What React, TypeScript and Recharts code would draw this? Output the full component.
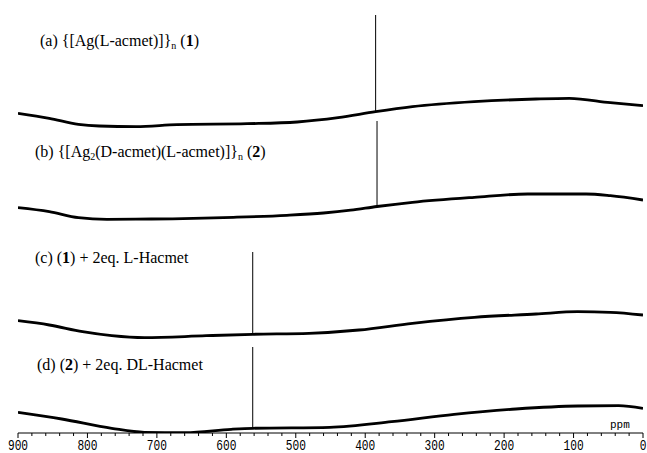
import { LineChart, Line, XAxis, YAxis } from 'recharts';

// chemical shift (ppm) sample points and baseline intensities, one set per spectrum
const PPM_A = [900, 855, 813, 783, 730, 671, 570, 498, 439, 385, 332, 243, 154, 106, 47, 0];
const VAL_A = [13.7, 8.7, 2.7, 1, 0.3, 2.3, 3.3, 5, 9.3, 15.3, 20.3, 25.3, 28, 28.7, 24.3, 21.3];
const PPM_B = [900, 855, 813, 772, 708, 590, 513, 460, 421, 383, 332, 243, 166, 82, 47, 0];
const VAL_B = [12.3, 8.3, 2.3, 0.7, 1, 2.7, 4.7, 7, 9.8, 13.5, 17.7, 22.7, 26, 26, 24.3, 20];
const PPM_C = [900, 855, 807, 765, 718, 629, 562, 481, 409, 332, 243, 154, 94, 47, 0];
const VAL_C = [17.3, 13, 6.3, 2.3, 0.3, 2.3, 3.7, 4.7, 8, 14.7, 20.7, 24, 26.3, 25.7, 23];
const PPM_D = [900, 837, 765, 718, 659, 593, 562, 451, 362, 272, 183, 94, 35, 0];
const VAL_D = [20.7, 14, 4.7, 0.7, 0.3, 3.7, 4.7, 5.7, 11.3, 18.7, 24, 27, 27.3, 24.7];

// stacking offsets, peak positions and peak heights above the baseline
const OFFSETS = [306, 213, 95, 0];
const PEAK_PPM = [385, 383, 562, 562];
const PEAK_HEIGHT = [96.7, 85.5, 82.3, 81.3];

const LABELS = ['a', 'b', 'c', 'd'];

const TICKS = [
  0, 20, 40, 60, 80, 100, 120, 140, 160, 180, 200, 220, 240, 260, 280, 300, 320, 340, 360, 380,
  400, 420, 440, 460, 480, 500, 520, 540, 560, 580, 600, 620, 640, 660, 680, 700, 720, 740, 760,
  780, 800, 820, 840, 860, 880, 900,
];

const SPECTRA = [
  { ppm: PPM_A, val: VAL_A },
  { ppm: PPM_B, val: VAL_B },
  { ppm: PPM_C, val: VAL_C },
  { ppm: PPM_D, val: VAL_D },
];

const baselines = SPECTRA.map((s, i) =>
  s.ppm.map((p, j) => ({ ppm: p, v: s.val[j] + OFFSETS[i] }))
);

const peaks = SPECTRA.map((s, i) => {
  const j = s.ppm.indexOf(PEAK_PPM[i]);
  const base = s.val[j] + OFFSETS[i];
  return [
    { ppm: PEAK_PPM[i], v: base },
    { ppm: PEAK_PPM[i], v: base + PEAK_HEIGHT[i] },
  ];
});

const AxisTick = (props: any) => {
  const { x, y, payload } = props;
  const major = payload.value % 100 === 0;
  return (
    <g>
      <line x1={x} x2={x} y1={y} y2={y + (major ? 5 : 3)} stroke="#000" strokeWidth={1} />
      {major && (
        <text
          transform={`translate(${x},${y + 17}) scale(0.8,1)`}
          textAnchor="middle"
          fontFamily="Liberation Mono"
          fontSize={14}
          fill="#000"
        >
          {payload.value}
        </text>
      )}
    </g>
  );
};

const serif = { fontFamily: '"Liberation Serif", "Times New Roman", serif', fontSize: 16, color: '#000' };
const lbl = (top: number, left: number) => ({
  position: 'absolute' as const,
  top,
  left,
  lineHeight: '16px',
  whiteSpace: 'nowrap' as const,
  ...serif,
});
const sub = { fontSize: 10, verticalAlign: '-3px' };

export default function App() {
  return (
    <div style={{ position: 'absolute', left: 0, top: 0, width: 647, height: 453, background: '#fff', overflow: 'hidden' }}>
      <LineChart width={647} height={453} margin={{ top: 0, right: 4, bottom: 0, left: 18 }}>
        <XAxis
          dataKey="ppm"
          type="number"
          domain={[0, 900]}
          reversed
          ticks={TICKS}
          interval={0}
          height={20}
          tickSize={0}
          tickMargin={0}
          tickLine={false}
          axisLine={{ stroke: '#000', strokeWidth: 1 }}
          tick={<AxisTick />}
          allowDataOverflow
        />
        <YAxis hide type="number" domain={[0, 433]} allowDataOverflow />
        {baselines.map((d, i) => (
          <Line
            key={'base-' + LABELS[i]}
            data={d}
            dataKey="v"
            type="monotone"
            stroke="#000"
            strokeWidth={2.8}
            dot={false}
            isAnimationActive={false}
          />
        ))}
        {peaks.map((d, i) => (
          <Line
            key={'peak-' + LABELS[i]}
            data={d}
            dataKey="v"
            type="linear"
            stroke="#000"
            strokeWidth={1}
            dot={false}
            isAnimationActive={false}
          />
        ))}
      </LineChart>
      <div style={lbl(33, 40)}>
        (a) {'{'}[Ag(L-acmet)]{'}'}<span style={sub}>n</span> (<b>1</b>)
      </div>
      <div style={lbl(144, 35)}>
        (b) {'{'}[Ag<span style={sub}>2</span>(D-acmet)(L-acmet)]{'}'}<span style={sub}>n</span> (<b>2</b>)
      </div>
      <div style={lbl(250, 35)}>
        (c) (<b>1</b>) + 2eq. L-Hacmet
      </div>
      <div style={lbl(357, 37)}>
        (d) (<b>2</b>) + 2eq. DL-Hacmet
      </div>
      <div
        style={{
          position: 'absolute',
          left: 610,
          top: 420,
          fontFamily: 'Liberation Mono',
          fontSize: 11,
          lineHeight: '11px',
          color: '#000',
        }}
      >
        ppm
      </div>
    </div>
  );
}
